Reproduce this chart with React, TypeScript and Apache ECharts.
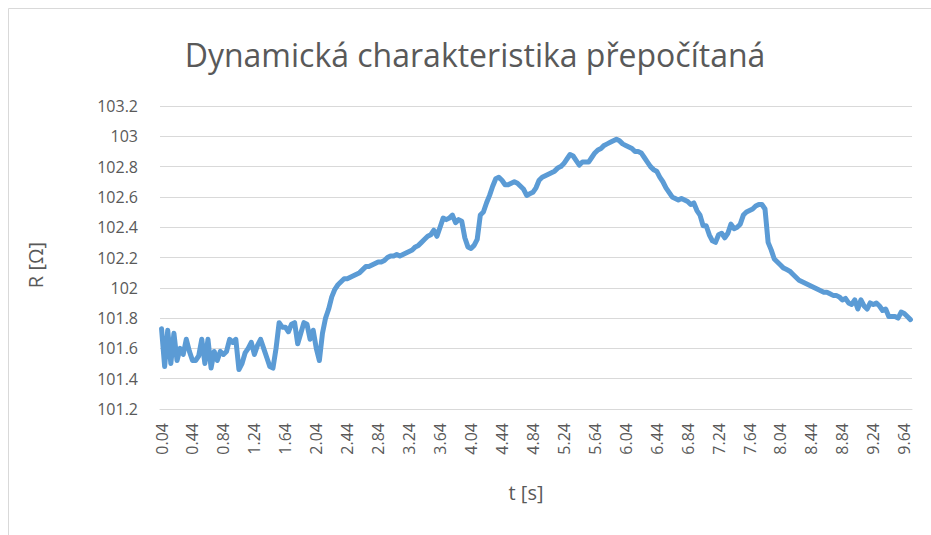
import React, { useEffect, useRef } from "react";
import * as echarts from "echarts";

const TITLE = "Dynamická charakteristika přepočítaná";
const X_NAME = "t [s]";
const Y_NAME = "R [Ω]";

// time axis: first sample and sampling step (s)
const T_START = 0.04;
const T_STEP = 0.04;

// resistance values R [Ω]
const rValues: number[] = [
  101.73, 101.48, 101.72, 101.5, 101.7, 101.52, 101.6, 101.56, 101.66, 101.58,
  101.52, 101.52, 101.55, 101.66, 101.5, 101.66, 101.47, 101.58, 101.52, 101.58,
  101.56, 101.58, 101.66, 101.64, 101.66, 101.46, 101.5, 101.57, 101.6, 101.64,
  101.56, 101.62, 101.66, 101.6, 101.54, 101.48, 101.47, 101.6, 101.77, 101.74,
  101.74, 101.71, 101.76, 101.77, 101.63, 101.7, 101.77, 101.76, 101.66, 101.72,
  101.6, 101.52, 101.7, 101.8, 101.86, 101.94, 101.99, 102.02, 102.04, 102.06,
  102.06, 102.07, 102.08, 102.09, 102.1, 102.12, 102.14, 102.14, 102.15, 102.16,
  102.17, 102.17, 102.18, 102.2, 102.21, 102.21, 102.22, 102.21, 102.22, 102.23,
  102.24, 102.25, 102.27, 102.28, 102.3, 102.32, 102.34, 102.35, 102.38, 102.34,
  102.4, 102.46, 102.45, 102.46, 102.48, 102.43, 102.45, 102.44, 102.33, 102.27,
  102.26, 102.28, 102.32, 102.48, 102.5, 102.56, 102.61, 102.67, 102.72, 102.73,
  102.71, 102.68, 102.68, 102.69, 102.7, 102.69, 102.67, 102.65, 102.61, 102.62,
  102.63, 102.66, 102.71, 102.73, 102.74, 102.75, 102.76, 102.77, 102.79, 102.8,
  102.82, 102.85, 102.88, 102.87, 102.84, 102.81, 102.83, 102.83, 102.83, 102.86,
  102.89, 102.91, 102.92, 102.94, 102.95, 102.96, 102.97, 102.98, 102.97, 102.95,
  102.94, 102.93, 102.92, 102.9, 102.9, 102.89, 102.86, 102.83, 102.8, 102.78,
  102.77, 102.73, 102.7, 102.66, 102.63, 102.6, 102.59, 102.58, 102.59, 102.58,
  102.57, 102.55, 102.56, 102.51, 102.48, 102.41, 102.41, 102.35, 102.31, 102.3,
  102.35, 102.36, 102.33, 102.36, 102.42, 102.39, 102.4, 102.42, 102.48, 102.5,
  102.51, 102.52, 102.54, 102.55, 102.55, 102.52, 102.3, 102.25, 102.19, 102.17,
  102.15, 102.13, 102.12, 102.11, 102.09, 102.07, 102.05, 102.04, 102.03, 102.02,
  102.01, 102.0, 101.99, 101.98, 101.97, 101.97, 101.96, 101.95, 101.95, 101.94,
  101.92, 101.93, 101.9, 101.89, 101.92, 101.86, 101.92, 101.88, 101.86, 101.9,
  101.89, 101.9, 101.88, 101.85, 101.86, 101.81, 101.81, 101.81, 101.8, 101.84,
  101.83, 101.81, 101.79,
];

const Y_MIN = 101.2;
const Y_MAX = 103.2;
const Y_STEP = 0.2;

const categories: string[] = rValues.map((_, i) => (T_START + T_STEP * i).toFixed(2));

const FONT = "'Open Sans', 'Noto Sans', sans-serif";
const TEXT = "#595959";
const GRID = "#D9D9D9";
const LINE = "#5B9BD5";

export default function App() {
  const ref = useRef<HTMLDivElement>(null);
  useEffect(() => {
    document.body.style.margin = "0";
    if (!ref.current) return;
    const chart = echarts.init(ref.current, undefined, { renderer: "svg" });
    chart.setOption({
      animation: false,
      backgroundColor: "#ffffff",
      textStyle: { fontFamily: FONT },
      grid: { left: 160, right: 19, top: 106, bottom: 126, containLabel: false },
      graphic: [
        {
          type: "rect",
          shape: { x: 8.5, y: 8.5, width: 940, height: 540 },
          style: { fill: "none", stroke: GRID, lineWidth: 1 },
          silent: true,
        },
        {
          type: "text",
          x: 475,
          y: 54,
          style: {
            text: TITLE,
            fill: TEXT,
            font: `32px ${FONT}`,
            align: "center",
            verticalAlign: "middle",
          },
        },
        {
          type: "text",
          x: 526,
          y: 492,
          style: {
            text: X_NAME,
            fill: TEXT,
            font: `20px ${FONT}`,
            align: "center",
            verticalAlign: "middle",
          },
        },
        {
          type: "text",
          x: 35,
          y: 265,
          rotation: Math.PI / 2,
          style: {
            text: Y_NAME,
            fill: TEXT,
            font: `20px ${FONT}`,
            align: "center",
            verticalAlign: "middle",
          },
        },
      ],
      xAxis: {
        type: "category",
        data: categories,
        boundaryGap: true,
        axisLine: { show: true, lineStyle: { color: GRID, width: 1 } },
        axisTick: { show: false },
        axisLabel: {
          interval: 9,
          rotate: 90,
          margin: 14,
          color: TEXT,
          fontSize: 16,
          fontFamily: FONT,
        },
        splitLine: { show: false },
      },
      yAxis: {
        type: "value",
        min: Y_MIN,
        max: Y_MAX,
        interval: Y_STEP,
        axisLine: { show: false },
        axisTick: { show: false },
        axisLabel: {
          margin: 22,
          color: TEXT,
          fontSize: 16,
          fontFamily: FONT,
          formatter: (v: number) => String(Math.round(v * 10) / 10),
        },
        splitLine: { show: true, lineStyle: { color: GRID, width: 1 } },
      },
      series: [
        {
          type: "line",
          data: rValues,
          showSymbol: false,
          symbol: "none",
          lineStyle: { color: LINE, width: 5, cap: "round", join: "round" },
        },
      ],
    });
    return () => chart.dispose();
  }, []);
  return <div ref={ref} style={{ width: 931, height: 535 }} />;
}
